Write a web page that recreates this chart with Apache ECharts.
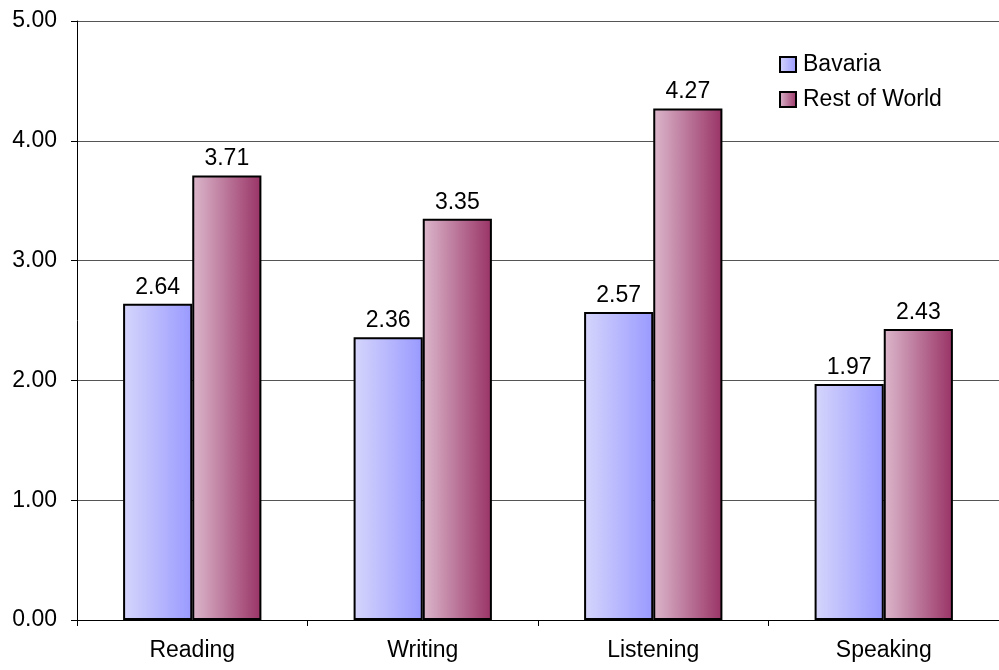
<!DOCTYPE html>
<html><head><meta charset="utf-8">
<script src="https://cdn.jsdelivr.net/npm/echarts@6/dist/echarts.min.js"></script>
<style>html,body{margin:0;padding:0;background:#fff}#c{width:999px;height:670px}</style>
</head><body><div id="c"></div>
<script>
var categories = ['Reading', 'Writing', 'Listening', 'Speaking'];
var bavaria = [2.64, 2.36, 2.57, 1.97];
var restOfWorld = [3.71, 3.35, 4.27, 2.43];
var yTicks = [0, 1, 2, 3, 4, 5];

function grad(a, b) {
  return new echarts.graphic.LinearGradient(0, 0, 1, 0, [{offset: 0, color: a}, {offset: 1, color: b}]);
}
var font = 'Liberation Sans, Arial, sans-serif';
var fs = 23;
var chart = echarts.init(document.getElementById('c'));
chart.setOption({
  animation: false,
  textStyle: {fontFamily: font},
  grid: {left: 77, top: 21, width: 932, height: 599, containLabel: false},
  legend: {
    orient: 'vertical', left: 774, top: 48, itemGap: 12, itemWidth: 16, itemHeight: 15,
    icon: 'rect',
    textStyle: {fontSize: fs, color: '#000', fontFamily: font, padding: [0, 0, 0, 2]},
    data: [
      {name: 'Bavaria', itemStyle: {color: grad('#d6d6fc', '#9999ff'), borderColor: '#000', borderWidth: 2}},
      {name: 'Rest of World', itemStyle: {color: grad('#dcb8cc', '#993366'), borderColor: '#000', borderWidth: 2}}
    ]
  },
  xAxis: {
    type: 'category', data: categories,
    axisLine: {lineStyle: {color: '#000', width: 1}},
    axisTick: {show: true, length: 6, lineStyle: {color: '#000'}},
    axisLabel: {fontSize: fs, color: '#000', margin: 19, fontFamily: font}
  },
  yAxis: {
    type: 'value', min: yTicks[0], max: yTicks[yTicks.length - 1], interval: 1,
    axisLine: {show: true, lineStyle: {color: '#000', width: 1}},
    axisTick: {show: true, length: 6, lineStyle: {color: '#000'}},
    splitLine: {lineStyle: {color: '#555', width: 1}},
    axisLabel: {fontSize: fs, color: '#000', margin: 20, fontFamily: font,
      formatter: function (v) { return v.toFixed(2); }}
  },
  series: [
    {name: 'Bavaria', type: 'bar', data: bavaria, barGap: '0%', barCategoryGap: '40%',
     itemStyle: {color: grad('#d6d6fc', '#9999ff'), borderColor: '#000', borderWidth: 2},
     label: {show: true, position: 'top', fontSize: fs, color: '#000', distance: 5, fontFamily: font,
       formatter: function (p) { return p.value.toFixed(2); }}},
    {name: 'Rest of World', type: 'bar', data: restOfWorld,
     itemStyle: {color: grad('#dcb8cc', '#993366'), borderColor: '#000', borderWidth: 2},
     label: {show: true, position: 'top', fontSize: fs, color: '#000', distance: 5, fontFamily: font,
       formatter: function (p) { return p.value.toFixed(2); }}}
  ]
});
</script></body></html>
